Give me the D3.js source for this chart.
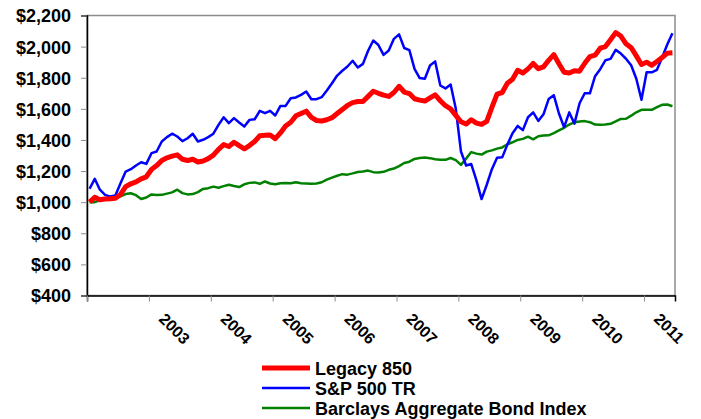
<!DOCTYPE html>
<html>
<head>
<meta charset="utf-8">
<script src="https://cdn.jsdelivr.net/npm/d3@7"></script>
<style>
  body { margin: 0; background: #fff; }
  svg text { font-family: "Liberation Sans", Arial, sans-serif; font-weight: bold; fill: #000; }
</style>
</head>
<body>
<div id="chart"></div>
<script>
// monthly values, growth of $1,000
var legacy = [1000, 1032, 1015, 1020, 1022, 1025, 1050, 1100, 1118, 1130, 1150, 1163,
  1210, 1235, 1268, 1285, 1296, 1304, 1276, 1268, 1276, 1258, 1265, 1280,
  1302, 1340, 1370, 1358, 1385, 1363, 1343, 1364, 1390, 1427, 1430, 1432,
  1408, 1445, 1490, 1514, 1555, 1570, 1585, 1545, 1525, 1522, 1530, 1543,
  1570, 1596, 1622, 1640, 1647, 1647, 1680, 1713, 1700, 1688, 1680, 1705,
  1745, 1708, 1698, 1665, 1656, 1650, 1670, 1690, 1652, 1620, 1600, 1558,
  1517, 1502, 1530, 1508, 1500, 1520, 1610, 1695, 1705, 1765, 1790, 1848,
  1830, 1857, 1892, 1858, 1870, 1912, 1949, 1890, 1835, 1830, 1845, 1842,
  1893, 1936, 1945, 1990, 2000, 2044, 2090, 2068, 2018, 1993, 1940, 1885,
  1900, 1880, 1905, 1930, 1958, 1960];

var sp500 = [1086, 1150, 1080, 1047, 1036, 1043, 1122, 1197, 1212, 1236, 1257, 1246,
  1315, 1326, 1390, 1418, 1440, 1422, 1392, 1411, 1440, 1390, 1401, 1418,
  1440, 1497, 1546, 1508, 1540, 1512, 1486, 1529, 1533, 1587, 1572, 1587,
  1557, 1619, 1619, 1668, 1673, 1690, 1711, 1662, 1662, 1675, 1718, 1765,
  1814, 1845, 1872, 1909, 1866, 1889, 1973, 2039, 2010, 1947, 1975, 2050,
  2079, 1991, 1977, 1857, 1798, 1793, 1879, 1905, 1750, 1731, 1756, 1600,
  1326, 1236, 1245, 1140, 1020, 1112, 1212, 1285, 1288, 1370, 1443, 1490,
  1463, 1546, 1577, 1522, 1565, 1663, 1688, 1570, 1482, 1577, 1505, 1636,
  1700, 1700, 1810, 1855, 1912, 1921, 1979, 1955, 1922, 1880, 1793, 1658,
  1835, 1835, 1851, 1930, 2014, 2086];

var barclays = [1000, 1000, 1012, 1018, 1025, 1032, 1038, 1052, 1057, 1045, 1020, 1030,
  1050, 1046, 1047, 1055, 1063, 1080, 1058, 1050, 1052, 1065, 1085, 1090,
  1100, 1093, 1103, 1112, 1104, 1097, 1115, 1124, 1127, 1118, 1133, 1120,
  1115, 1122, 1124, 1122, 1128, 1122, 1120, 1118, 1120, 1128, 1145, 1158,
  1170, 1180, 1177, 1185, 1194, 1197, 1203, 1193, 1190, 1195, 1208, 1216,
  1232, 1252, 1260, 1278, 1284, 1287, 1283, 1276, 1272, 1272, 1284, 1270,
  1240, 1280, 1322, 1312, 1306, 1325, 1333, 1344, 1352, 1372, 1385, 1400,
  1407, 1421, 1404, 1424, 1429, 1430, 1444, 1462, 1478, 1499, 1514, 1519,
  1521, 1514, 1499, 1497, 1499, 1504, 1519, 1535, 1536, 1556, 1578, 1594,
  1594, 1594, 1611, 1626, 1628, 1617];

var years = ["2003", "2004", "2005", "2006", "2007", "2008", "2009", "2010", "2011"];
var yTicks = [400, 600, 800, 1000, 1200, 1400, 1600, 1800, 2000, 2200];

var series = [
  { name: "Legacy 850", values: legacy, color: "#ff0000", width: 5 },
  { name: "S&P 500 TR", values: sp500, color: "#0000ff", width: 2.5 },
  { name: "Barclays Aggregate Bond Index", values: barclays, color: "#008000", width: 2.5 }
];

var width = 701, height = 419;
var plotL = 87, plotR = 675, plotT = 15.5, plotB = 295.5;

var svg = d3.select("#chart").append("svg")
  .attr("width", width)
  .attr("height", height);

svg.append("rect").attr("width", width).attr("height", height).attr("fill", "#fff");

var n = legacy.length;
var x = d3.scaleLinear().domain([-0.5, n - 0.5]).range([plotL, plotR]);
var y = d3.scaleLinear().domain([400, 2200]).range([plotB, plotT]);

// plot frame
svg.append("rect")
  .attr("x", plotL).attr("y", plotT)
  .attr("width", plotR - plotL).attr("height", plotB - plotT)
  .attr("fill", "none")
  .attr("stroke", "#8c8c8c")
  .attr("stroke-width", 1.5);

// y axis
var yAxis = d3.axisLeft(y)
  .tickValues(yTicks)
  .tickSize(6)
  .tickPadding(10)
  .tickFormat(function (d) { return "$" + d3.format(",")(d); });

var gy = svg.append("g")
  .attr("transform", "translate(" + plotL + ",0)")
  .call(yAxis);
gy.select(".domain").attr("stroke", "#000").attr("stroke-width", 1.5);
gy.selectAll(".tick line").attr("stroke", "#8c8c8c").attr("stroke-width", 1);
gy.selectAll(".tick text").style("font-size", "18px").attr("dy", "0.36em");

// x axis, one tick per 12 months
var xTickVals = d3.range(0, 10).map(function (k) { return -0.5 + 12 * k; });
var xAxis = d3.axisBottom(x)
  .tickValues(xTickVals)
  .tickSize(6)
  .tickFormat("");

var gx = svg.append("g")
  .attr("transform", "translate(0," + plotB + ")")
  .call(xAxis);
gx.select(".domain").attr("stroke", "#000").attr("stroke-width", 1.5);
gx.selectAll(".tick line").attr("stroke", "#8c8c8c").attr("stroke-width", 1);

svg.append("g").selectAll("text")
  .data(years)
  .enter()
  .append("text")
  .attr("transform", function (d, i) {
    return "translate(" + (x(11.5 + 12 * i) + 9) + "," + 320 + ") rotate(45)";
  })
  .style("font-size", "16px")
  .text(function (d) { return d; });

// lines
var line = d3.line()
  .x(function (d, i) { return x(i); })
  .y(function (d) { return y(d); });

// draw green, blue, then red on top
[series[2], series[1], series[0]].forEach(function (s) {
  svg.append("path")
    .datum(s.values)
    .attr("fill", "none")
    .attr("stroke", s.color)
    .attr("stroke-width", s.width)
    .attr("stroke-linejoin", "round")
    .attr("d", line);
});

// legend
var legend = svg.append("g");
series.forEach(function (s, i) {
  var ly = 368 + 20 * i;
  legend.append("line")
    .attr("x1", 262).attr("x2", 310)
    .attr("y1", ly).attr("y2", ly)
    .attr("stroke", s.color)
    .attr("stroke-width", s.width);
  legend.append("text")
    .attr("x", 315)
    .attr("y", ly + 6.5)
    .style("font-size", "18px")
    .text(s.name);
});
</script>
</body>
</html>
